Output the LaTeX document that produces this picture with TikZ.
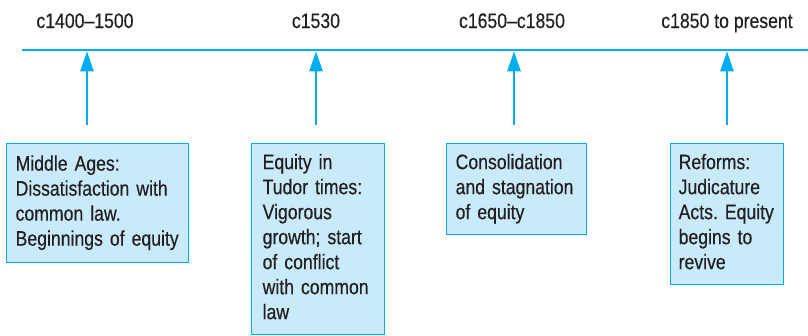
\documentclass[tikz,border=0pt]{standalone}
\usepackage{fontspec}
\setmainfont[FakeStretch=0.84,FakeBold=0.4]{Liberation Sans}
\usetikzlibrary{arrows.meta,positioning}
\definecolor{linecyan}{RGB}{0,174,239}
\definecolor{boxfill}{RGB}{200,234,249}
\definecolor{inkgray}{RGB}{35,31,32}
\frenchspacing

\begin{document}
\begin{tikzpicture}
[x=1pt, y=-1pt, line width=2.6pt, >={Triangle[length=20pt,width=13pt]},
date/.style={anchor=base, text=inkgray, inner sep=0pt, font=\fontsize{21}{25}\selectfont},
era/.style={rectangle, draw=linecyan, line width=1.3pt, fill=boxfill, anchor=north west,
  align=left, text=inkgray, font=\fontsize{21}{25}\selectfont, inner xsep=9pt, inner ysep=8pt,
  execute at begin node={\hyphenpenalty=10000\hfuzz=20pt\strut}, execute at end node=\strut},
pointer/.style={draw=linecyan, ->, shorten >=1.3pt}]

\useasboundingbox (0,0) rectangle (808,335);

% the time line
\draw[draw=linecyan] (22,50) -- (808,50);

\coordinate (t1) at (87,50);
\coordinate (t2) at (316,50);
\coordinate (t3) at (514,50);
\coordinate (t4) at (727,50);

\coordinate (a1) at (87,125);
\coordinate (a2) at (316,125);
\coordinate (a3) at (514,125);
\coordinate (a4) at (727,125);

\draw[pointer] (a1) -- (t1);
\draw[pointer] (a2) -- (t2);
\draw[pointer] (a3) -- (t3);
\draw[pointer] (a4) -- (t4);

\node[date] (d1) at (85,28) {c1400--1500};
\node[date] (d2) at (316,28) {c1530};
\node[date] (d3) at (512,28) {c1650--c1850};
\node[date] (d4) at (727,28) {c1850 to present};

% the periods
\node[era, text width=164pt, minimum height=119pt] (b1) at (6,143)
  {Middle Ages:\\ Dissatisfaction with\\ common law.\\ Beginnings~of~equity};
\node[era, inner xsep=11pt, text width=111pt] (b2) at (251,143)
  {Equity in\\ Tudor times:\\ Vigorous\\ growth;~start\\ of conflict\\ with~common\\ law};
\node[era, text width=122pt] (b3) at (446,143)
  {Consolidation\\ and~stagnation\\ of equity};
\node[era, inner xsep=8pt, text width=97pt] (b4) at (670,143)
  {Reforms:\\ Judicature\\ Acts.~Equity\\ begins to\\ revive};

\end{tikzpicture}
\end{document}
